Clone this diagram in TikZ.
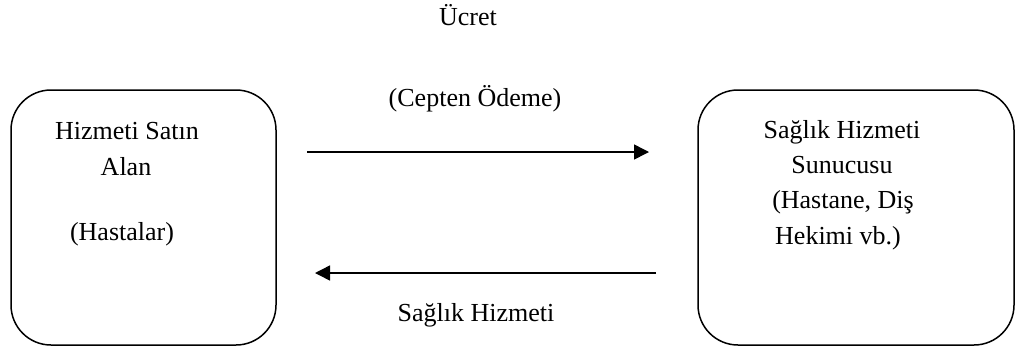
\documentclass[tikz,border=0pt]{standalone}
\usepackage{fontspec}
\setmainfont{Liberation Serif}
\usetikzlibrary{arrows.meta}
\begin{document}
\begin{tikzpicture}[x=1pt,y=-1pt,
  box/.style={draw,line width=1.5pt,rounded corners=40pt,inner sep=0pt},
  lbl/.style={anchor=base,inner sep=0pt,font=\fontsize{26}{35}\selectfont},
  flow/.style={line width=1.5pt,-{Triangle[length=15pt,width=15pt]}}]
  \useasboundingbox (0,0) rectangle (1016,349);
  % the two parties
  \node[box,minimum width=265pt,minimum height=255pt] (buyer) at (143.5,217.5) {};
  \node[box,minimum width=316pt,minimum height=255pt] (provider) at (856,217.5) {};
  % texts inside the boxes
  \node[lbl] (b1) at (127,139) {Hizmeti Satın};
  \node[lbl] (b2) at (126,175) {Alan};
  \node[lbl] (b3) at (122,240) {(Hastalar)};
  \node[lbl] (p1) at (842,138) {Sağlık Hizmeti};
  \node[lbl] (p2) at (842,173) {Sunucusu};
  \node[lbl] (p3) at (843,208) {(Hastane, Diş};
  \node[lbl] (p4) at (838,244) {Hekimi vb.)};
  % flow labels
  \node[lbl] (fee) at (468,25) {Ücret};
  \node[lbl] (oop) at (475,106) {(Cepten Ödeme)};
  \node[lbl] (svc) at (476,321) {Sağlık Hizmeti};
  % flows between the parties
  \coordinate (payS) at (307,152);
  \coordinate (payE) at (649,152);
  \coordinate (svcS) at (656,273);
  \coordinate (svcE) at (315,273);
  \draw[flow] (payS) -- (payE);
  \draw[flow] (svcS) -- (svcE);
\end{tikzpicture}
\end{document}
